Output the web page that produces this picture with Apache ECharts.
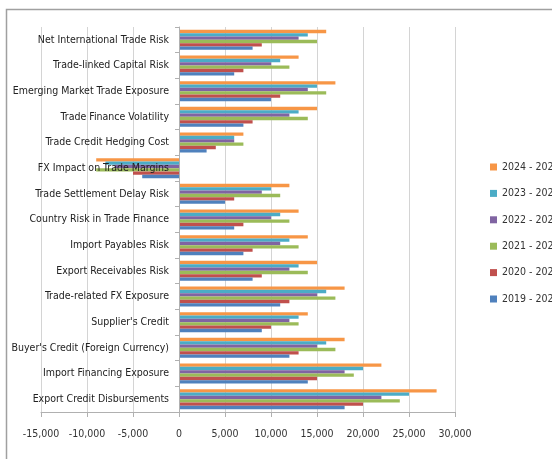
<!DOCTYPE html>
<html>
<head>
<meta charset="utf-8">
<script src="https://cdn.jsdelivr.net/npm/echarts@6/dist/echarts.min.js"></script>
<style>html,body{margin:0;padding:0;background:#fff;}#c{width:552px;height:459px;}</style>
</head>
<body>
<div id="c"></div>
<script>
var categories = ["Export Credit Disbursements","Import Financing Exposure","Buyer's Credit (Foreign Currency)","Supplier's Credit","Trade-related FX Exposure","Export Receivables Risk","Import Payables Risk","Country Risk in Trade Finance","Trade Settlement Delay Risk","FX Impact on Trade Margins","Trade Credit Hedging Cost","Trade Finance Volatility","Emerging Market Trade Exposure","Trade-linked Capital Risk","Net International Trade Risk"];
var y2019 = [18000,14000,12000,9000,11000,8000,7000,6000,5000,-4000,3000,7000,10000,6000,8000];
var y2020 = [20000,15000,13000,10000,12000,9000,8000,7000,6000,-5000,4000,8000,11000,7000,9000];
var y2021 = [24000,19000,17000,13000,17000,14000,13000,12000,11000,-9000,7000,14000,16000,12000,15000];
var y2022 = [22000,18000,15000,12000,15000,12000,11000,10000,9000,-7000,6000,12000,14000,10000,13000];
var y2023 = [25000,20000,16000,13000,16000,13000,12000,11000,10000,-8000,6000,13000,15000,11000,14000];
var y2024 = [28000,22000,18000,14000,18000,15000,14000,13000,12000,-9000,7000,15000,17000,13000,16000];
var seriesNames = ["2024 - 2025","2023 - 2024","2022 - 2023","2021 - 2022","2020 - 2021","2019 - 2020"];
var seriesData = [y2024,y2023,y2022,y2021,y2020,y2019];
var colors = ["#F79646","#4BACC6","#8064A2","#9BBB59","#C0504D","#4F81BD"];
var xTicks = {min:-15000, max:30000, interval:5000};

var font = "'Liberation Sans Narrow','DejaVu Sans Condensed',sans-serif";
var chart = echarts.init(document.getElementById('c'));
var series = seriesNames.map(function(n,i){
  return {name:n, type:'bar', data:seriesData[i], barGap:'0%', barCategoryGap:'22%',
    itemStyle:{color:colors[i]}, animation:false, z:2};
});
chart.setOption({
  animation:false,
  textStyle:{fontFamily:font},
  graphic:[{type:'rect', shape:{x:6.5,y:9.5,width:600,height:500}, style:{fill:'none', stroke:'#a0a0a0', lineWidth:1.5}, silent:true}],
  legend:{orient:'vertical', left:485, top:156, itemWidth:7, itemHeight:7, itemGap:14.4, icon:'rect',
    data:seriesNames.slice(),
    textStyle:{fontSize:10.5, color:'#333', fontFamily:font, lineHeight:12}},
  grid:{left:41, right:97, top:27, bottom:47, containLabel:false, outerBoundsMode:'none'},
  xAxis:{type:'value', min:xTicks.min, max:xTicks.max, interval:xTicks.interval,
    axisLine:{show:true, lineStyle:{color:'#b0b0b0'}},
    axisTick:{show:true, length:5, lineStyle:{color:'#b0b0b0'}},
    splitLine:{show:true, lineStyle:{color:'#d4d4d4'}},
    axisLabel:{fontSize:10.5, color:'#333', margin:17, fontFamily:font,
      formatter:function(v){return v.toLocaleString('en-US');}}},
  yAxis:{type:'category', data:categories, offset:-138, z:5,
    axisLine:{show:true, onZero:false, lineStyle:{color:'#b0b0b0'}},
    axisTick:{show:true, length:4, lineStyle:{color:'#b0b0b0'}},
    splitLine:{show:false},
    axisLabel:{fontSize:10.5, color:'#222', margin:10, fontFamily:font, overflow:'none', width:300}},
  series:series
});
</script>
</body>
</html>
